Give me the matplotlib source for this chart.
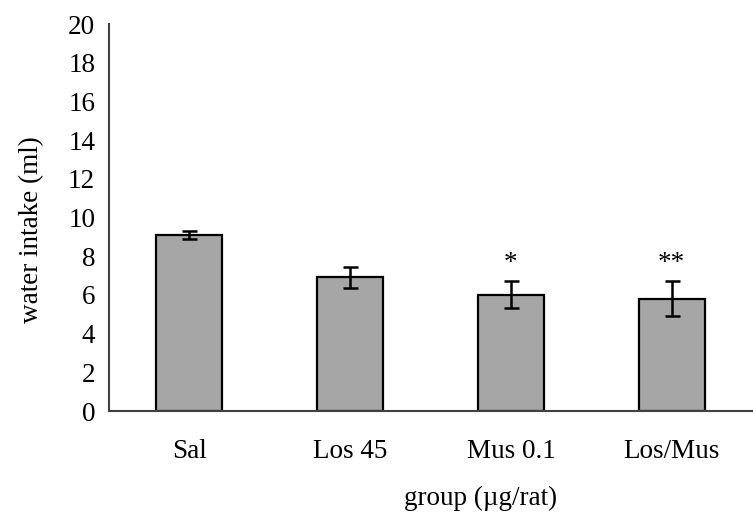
import matplotlib
matplotlib.use("Agg")
import matplotlib.pyplot as plt
import numpy as np

categories = ["Sal", "Los 45", "Mus 0.1", "Los/Mus"]
means = [9.1, 6.9, 6.0, 5.8]
errors = [0.2, 0.55, 0.7, 0.9]
stars = ["", "", "*", "**"]
yticks = [0, 2, 4, 6, 8, 10, 12, 14, 16, 18, 20]

plt.rcParams['font.family'] = ['Liberation Serif', 'DejaVu Serif']
FS = 19.5

fig = plt.figure(figsize=(7.53, 5.20), dpi=100)
ax = fig.add_axes([0.1448, 0.2096, 0.854, 0.7442])

x = np.arange(len(categories))
ax.bar(x, means, width=0.41, color="#a6a6a6", edgecolor="black", linewidth=1.6, zorder=2)
ax.errorbar(x, means, yerr=errors, fmt="none", ecolor="black", elinewidth=1.8,
            capsize=5.4, capthick=1.8, zorder=3)

for xi, s in zip(x, stars):
    if s:
        ax.text(xi, 7.6, s, ha="center", va="center", fontsize=FS)

ax.set_xlim(-0.5, 3.5)
ax.set_ylim(0, 20)
ax.set_yticks(yticks)
ax.set_xticks(x)
ax.set_xticklabels(categories)
ax.tick_params(axis="both", length=0, labelsize=FS)
ax.tick_params(axis="x", pad=20)
ax.tick_params(axis="y", pad=10)

for s in ["top", "right"]:
    ax.spines[s].set_visible(False)
for s in ["left", "bottom"]:
    ax.spines[s].set_linewidth(1.5)
    ax.spines[s].set_color("#404040")

ax.set_ylabel("water intake (ml)", fontsize=FS)
ax.yaxis.set_label_coords(-0.121, 0.468)
ax.yaxis.label.set_va("center")
ax.set_xlabel("group (µg/rat)", fontsize=FS)
ax.xaxis.set_label_coords(0.578, -0.225)
ax.xaxis.label.set_va("center")

fig.savefig("out.png", dpi=100)
